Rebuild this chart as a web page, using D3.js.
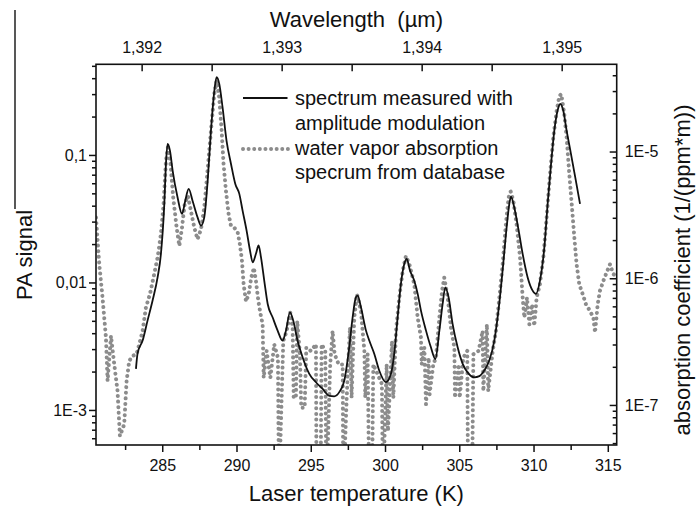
<!DOCTYPE html>
<html>
<head>
<meta charset="utf-8">
<script src="https://cdn.jsdelivr.net/npm/d3@7"></script>
<style>
    body { margin: 0; background: #fff; }
    svg { display: block; font-family: 'Liberation Sans', Arial, sans-serif; }
</style>
</head>
<body>
<svg id="chart" width="696" height="506"></svg>
<script>
const W = 696;
const H = 506;
const LEFT = 96;
const RIGHT = 616.7;
const TOP = 64.3;
const BOTTOM = 445;

// measured PA spectrum: laser temperature (K) and PA signal
const measTemp = [283.23, 283.34, 283.68, 284.01, 284.35, 284.69, 284.91, 285.14, 285.25, 285.36,
    285.52, 285.70, 286.03, 286.33, 286.55, 286.78, 287.04, 287.38, 287.61, 287.83,
    288.06, 288.28, 288.51, 288.66, 288.84, 289.06, 289.33, 289.63, 289.92, 290.19,
    290.41, 290.68, 290.91, 291.09, 291.31, 291.49, 291.65, 291.87, 292.10, 292.43,
    292.77, 293.10, 293.33, 293.60, 293.82, 294.11, 294.45, 294.90, 295.35, 295.80,
    296.25, 296.58, 296.92, 297.26, 297.59, 297.82, 298.04, 298.16, 298.38, 298.72,
    298.94, 299.28, 299.61, 300.06, 300.40, 300.62, 300.85, 301.07, 301.30, 301.46,
    301.68, 301.97, 302.20, 302.42, 302.76, 303.09, 303.39, 303.66, 303.88, 304.06,
    304.28, 304.55, 304.89, 305.23, 305.56, 306.01, 306.35, 306.68, 307.02, 307.36,
    307.69, 307.96, 308.19, 308.37, 308.48, 308.70, 309.00, 309.27, 309.60, 309.94,
    310.16, 310.43, 310.73, 310.95, 311.18, 311.40, 311.62, 311.80, 312.00, 312.23,
    312.52, 312.81, 313.13];
const measSignal = [0.0021, 0.00278, 0.0035, 0.00502, 0.00721, 0.0110, 0.0167, 0.0413, 0.0850, 0.122,
    0.108, 0.0754, 0.0466, 0.0345, 0.0438, 0.0541, 0.0438, 0.0324, 0.0279, 0.0324,
    0.0629, 0.155, 0.320, 0.407, 0.361, 0.237, 0.129, 0.0850, 0.0592, 0.0495,
    0.0366, 0.0255, 0.0178, 0.0144, 0.0168, 0.0195, 0.0157, 0.0103, 0.00678, 0.00533,
    0.00419, 0.0035, 0.00419, 0.00583, 0.00502, 0.0035, 0.00259, 0.00192, 0.00165, 0.00146,
    0.00129, 0.00128, 0.00138, 0.0017, 0.0031, 0.00533, 0.00765, 0.00788, 0.00638, 0.00419,
    0.0035, 0.00275, 0.00204, 0.00165, 0.00192, 0.00275, 0.00533, 0.00973, 0.0140, 0.0153,
    0.0124, 0.0103, 0.00813, 0.00601, 0.00419, 0.0031, 0.00251, 0.00419, 0.00678, 0.00916,
    0.00765, 0.00473, 0.0031, 0.0023, 0.00197, 0.0018, 0.00184, 0.00204, 0.00244, 0.0035,
    0.00678, 0.0140, 0.0271, 0.0413, 0.0471, 0.0389, 0.0255, 0.0167, 0.0110, 0.00863,
    0.00813, 0.0103, 0.0189, 0.0413, 0.0850, 0.155, 0.223, 0.251, 0.223, 0.155,
    0.102, 0.0668, 0.0413];

// water vapor absorption from database: laser temperature (K) and coefficient (1/(ppm*m))
const dbTemp = [280.54, 280.76, 280.98, 281.21, 281.32, 281.55, 281.77, 281.99, 282.15, 282.44,
    282.60, 282.78, 283.00, 283.27, 283.45, 283.68, 283.90, 284.17, 284.46, 284.69,
    284.91, 285.09, 285.25, 285.38, 285.56, 285.74, 285.97, 286.15, 286.33, 286.51,
    286.73, 286.93, 287.16, 287.38, 287.61, 287.83, 288.05, 288.28, 288.50, 288.66,
    288.84, 289.00, 289.13, 289.29, 289.47, 289.63, 289.85, 290.08, 290.23, 290.37,
    290.48, 290.64, 290.82, 290.99, 291.17, 291.31, 291.47, 291.62,
    291.76, 291.83, 292.03, 292.28, 292.54, 292.79, 292.86, 293.04, 293.15, 293.38, 293.62, 293.78,
    293.85, 294.00, 294.09, 294.27, 294.36, 294.59, 294.70, 295.01, 295.35, 295.39,
    295.66, 295.73, 295.98, 296.05, 296.31, 296.47, 296.61, 296.88, 297.15, 297.19,
    297.42, 297.64, 297.75, 297.93, 298.11, 298.38, 298.61, 298.67, 298.83, 298.94,
    299.12, 299.21, 299.50, 299.79, 299.86, 300.11, 300.20, 300.47, 300.56, 300.74,
    300.96, 301.19, 301.41, 301.64, 301.97, 302.20, 302.42, 302.47, 302.65, 302.76,
    302.94, 303.00, 303.25, 303.43, 303.66, 303.84, 303.99, 304.22, 304.44, 304.67,
    304.71, 304.96, 305.03, 305.27, 305.54, 305.59, 305.86, 305.95, 306.30, 306.57,
    306.62, 306.86, 306.95, 307.25, 307.47, 307.70, 307.92, 308.14, 308.32, 308.46,
    308.64, 308.86, 309.09, 309.27, 309.38, 309.56, 309.72, 309.90, 310.05, 310.21,
    310.43, 310.66, 310.88, 311.11, 311.33, 311.56, 311.74, 311.87, 312.07, 312.23,
    312.41, 312.59, 312.75, 312.90, 313.08, 313.31, 313.53, 313.80, 314.03, 314.14,
    314.32, 314.47, 314.70, 314.92, 315.15, 315.37, 315.69];
const dbAbs = [3.01e-6, 1.29e-6, 7.04e-7, 3.40e-7, 1.55e-7, 3.51e-7, 2.09e-7, 1.29e-7, 5.69e-8, 7.04e-8,
    1.55e-7, 2.23e-7, 2.44e-7, 2.51e-7, 3.01e-7, 3.84e-7, 5.87e-7, 7.48e-7, 1.08e-6, 1.46e-6,
    2.23e-6, 3.84e-6, 8.44e-6, 1.08e-5, 7.94e-6, 4.33e-6, 2.51e-6, 1.80e-6, 2.51e-6, 3.84e-6,
    4.47e-6, 3.40e-6, 2.51e-6, 2.03e-6, 2.44e-6, 3.61e-6, 7.04e-6, 1.46e-5, 2.84e-5, 3.61e-5,
    2.67e-5, 1.46e-5, 7.94e-6, 4.89e-6, 3.20e-6, 2.59e-6, 2.51e-6, 2.30e-6, 1.85e-6, 1.37e-6,
    8.97e-7, 6.56e-7, 7.48e-7, 1.01e-6, 1.21e-6, 9.52e-7, 6.62e-7, 5.20e-7,
    4.33e-7, 1.64e-7, 2.67e-7, 1.64e-7, 3.01e-7, 2.36e-7, 2e-8, 1.14e-7, 3.20e-7, 3.84e-7, 5.36e-7, 4.08e-7,
    1.14e-7, 1.14e-7, 4.60e-7, 2.51e-7, 9.52e-8, 9.52e-8, 2.84e-7, 2.67e-7, 3.01e-7, 2e-8,
    2e-8, 3.01e-7, 2.67e-7, 2e-8, 2.09e-7, 3.84e-7, 2.51e-7, 2.09e-7, 2.09e-7, 2e-8,
    1.14e-7, 4.08e-7, 1.14e-7, 4.89e-7, 7.48e-7, 5.52e-7, 2.67e-7, 1.14e-7, 2.51e-7, 2e-8,
    2e-8, 2.09e-7, 1.75e-7, 1.46e-7, 2e-8, 2.09e-7, 6.23e-8, 3.20e-7, 1.14e-7, 3.84e-7,
    7.04e-7, 1.14e-6, 1.50e-6, 1.29e-6, 8.97e-7, 4.89e-7, 3.40e-7, 2.09e-7, 2.84e-7, 1.01e-7,
    2.36e-7, 1.21e-7, 2.09e-7, 2.36e-7, 4.89e-7, 7.94e-7, 1.01e-6, 7.04e-7, 4.08e-7, 2.84e-7,
    1.14e-7, 2.09e-7, 1.14e-7, 2.36e-7, 2.67e-7, 2e-8, 2e-8, 2.51e-7, 2.67e-7, 3.84e-7,
    1.29e-7, 4.33e-7, 1.29e-7, 2.67e-7, 3.84e-7, 7.04e-7, 1.29e-6, 2.67e-6, 4.33e-6, 4.83e-6,
    4.08e-6, 2.67e-6, 1.46e-6, 7.04e-7, 4.89e-7, 7.04e-7, 4.33e-7, 6.23e-7, 4.21e-7, 7.04e-7,
    8.97e-7, 1.46e-6, 3.01e-6, 6.62e-6, 1.29e-5, 2.10e-5, 2.75e-5, 2.84e-5, 1.97e-5, 1.29e-5,
    6.62e-6, 3.61e-6, 2.09e-6, 1.29e-6, 8.97e-7, 7.48e-7, 6.23e-7, 5.52e-7, 4.89e-7, 3.72e-7,
    6.23e-7, 7.94e-7, 9.52e-7, 1.11e-6, 1.29e-6, 1.08e-6, 1.01e-6];

const tempTicks = [285, 290, 295, 300, 305, 310, 315];
const tempMinorTicks = [282.5, 287.5, 292.5, 297.5, 302.5, 307.5, 312.5];
const waveTicks = [1.392, 1.393, 1.394, 1.395];
const waveMinorTicks = [1.3925, 1.3935, 1.3945];
const signalTicks = [0.001, 0.01, 0.1];
const signalLabels = ['1E-3', '0,01', '0,1'];
const absTicks = [1e-7, 1e-6, 1e-5];
const absLabels = ['1E-7', '1E-6', '1E-5'];
const legendLabels = [['spectrum measured with', 'amplitude modulation'],
                      ['water vapor absorption', 'specrum from database']];

const DOT_GREY = '#8c8c8c';
const DOTS = '0.01 5.6';

const svg = d3.select('#chart');

const xScale = d3.scaleLinear().domain([280.54, 315.6]).range([LEFT, RIGHT]);
const waveScale = d3.scaleLinear().domain([1.391674, 1.395393]).range([LEFT, RIGHT]);
const yLeft = d3.scaleLog().domain([5.31e-4, 0.514]).range([BOTTOM, TOP]);
const yRight = d3.scaleLog().domain([4.83e-8, 4.88e-5]).range([BOTTOM, TOP]);

const isDecade = v => Math.abs(Math.log10(v) - Math.round(Math.log10(v))) < 1e-6;
const commaFmt = d3.formatLocale({ decimal: ',', thousands: '.', grouping: [3], currency: ['', ''] }).format('.3f');

svg.append('defs').append('clipPath')
    .attr('id', 'plot-clip')
    .append('rect')
    .attr('x', LEFT)
    .attr('y', TOP)
    .attr('width', RIGHT - LEFT)
    .attr('height', BOTTOM - TOP);

// axes
function styleAxis(g) {
    g.select('.domain').remove();
    g.selectAll('line').attr('stroke', '#111').attr('stroke-width', 1.5);
    g.selectAll('text').attr('font-size', 16).attr('fill', '#111')
        .attr('font-family', "'Liberation Sans', Arial, sans-serif");
}

svg.append('g')
    .attr('transform', 'translate(0,' + BOTTOM + ')')
    .call(d3.axisBottom(xScale).tickValues(tempTicks).tickSize(7).tickPadding(8).tickFormat(d3.format('d')))
    .call(styleAxis);
svg.append('g')
    .attr('transform', 'translate(0,' + BOTTOM + ')')
    .call(d3.axisBottom(xScale).tickValues(tempMinorTicks).tickSize(5).tickFormat(''))
    .call(styleAxis);

svg.append('g')
    .attr('transform', 'translate(0,' + TOP + ')')
    .call(d3.axisTop(waveScale).tickValues(waveTicks).tickSize(-7).tickPadding(11).tickFormat(commaFmt))
    .call(styleAxis);
svg.append('g')
    .attr('transform', 'translate(0,' + TOP + ')')
    .call(d3.axisTop(waveScale).tickValues(waveMinorTicks).tickSize(-7).tickFormat(''))
    .call(styleAxis);

svg.append('g')
    .attr('transform', 'translate(' + LEFT + ',0)')
    .call(d3.axisLeft(yLeft).tickValues(signalTicks).tickSize(7).tickPadding(2)
        .tickFormat((d, i) => signalLabels[i]))
    .call(styleAxis);
svg.append('g')
    .attr('transform', 'translate(' + LEFT + ',0)')
    .call(d3.axisLeft(yLeft).tickValues(yLeft.ticks().filter(v => !isDecade(v))).tickSize(4).tickFormat(''))
    .call(styleAxis);

svg.append('g')
    .attr('transform', 'translate(' + RIGHT + ',0)')
    .call(d3.axisRight(yRight).tickValues(absTicks).tickSize(-7).tickPadding(8)
        .tickFormat((d, i) => absLabels[i]))
    .call(styleAxis);
svg.append('g')
    .attr('transform', 'translate(' + RIGHT + ',0)')
    .call(d3.axisRight(yRight).tickValues(yRight.ticks().filter(v => !isDecade(v))).tickSize(-4).tickFormat(''))
    .call(styleAxis);

// data
const dbData = dbTemp.map((t, i) => [t, dbAbs[i]]);
const measData = measTemp.map((t, i) => [t, measSignal[i]]);

const plot = svg.append('g').attr('clip-path', 'url(#plot-clip)');

plot.append('path')
    .datum(dbData)
    .attr('fill', 'none')
    .attr('stroke', DOT_GREY)
    .attr('stroke-width', 4)
    .attr('stroke-linecap', 'round')
    .attr('stroke-dasharray', DOTS)
    .attr('d', d3.line().x(d => xScale(d[0])).y(d => yRight(d[1])));

plot.append('path')
    .datum(measData)
    .attr('fill', 'none')
    .attr('stroke', '#111')
    .attr('stroke-width', 1.8)
    .attr('d', d3.line().x(d => xScale(d[0])).y(d => yLeft(d[1])).curve(d3.curveMonotoneX));

// frame
svg.append('rect')
    .attr('x', LEFT)
    .attr('y', TOP)
    .attr('width', RIGHT - LEFT)
    .attr('height', BOTTOM - TOP)
    .attr('fill', 'none')
    .attr('stroke', '#111')
    .attr('stroke-width', 1.6);

// legend
const legend = svg.append('g').attr('font-size', 20).attr('fill', '#111');
legend.append('line')
    .attr('x1', 243).attr('x2', 287.5).attr('y1', 98).attr('y2', 98)
    .attr('stroke', '#111').attr('stroke-width', 1.8);
legend.append('line')
    .attr('x1', 243).attr('x2', 288).attr('y1', 149).attr('y2', 149)
    .attr('stroke', DOT_GREY).attr('stroke-width', 4)
    .attr('stroke-linecap', 'round').attr('stroke-dasharray', DOTS);
legendLabels.forEach((pair, k) => {
    pair.forEach((txt, j) => {
        legend.append('text')
            .attr('x', 295)
            .attr('y', 105 + k * 49.5 + j * 24.5)
            .text(txt);
    });
});

// axis titles
svg.append('text')
    .attr('x', (LEFT + RIGHT) / 2)
    .attr('y', 27)
    .attr('text-anchor', 'middle')
    .attr('font-size', 22)
    .attr('fill', '#111')
    .text('Wavelength  (\u00b5m)')
    .style('white-space', 'pre');

svg.append('text')
    .attr('x', (LEFT + RIGHT) / 2)
    .attr('y', 501)
    .attr('text-anchor', 'middle')
    .attr('font-size', 22)
    .attr('fill', '#111')
    .text('Laser temperature (K)');

svg.append('text')
    .attr('transform', 'rotate(-90)')
    .attr('x', -255)
    .attr('y', 32)
    .attr('text-anchor', 'middle')
    .attr('font-size', 22)
    .attr('fill', '#111')
    .text('PA signal');

svg.append('text')
    .attr('transform', 'rotate(-90)')
    .attr('x', -270)
    .attr('y', 690)
    .attr('text-anchor', 'middle')
    .attr('font-size', 22)
    .attr('fill', '#111')
    .text('absorption coefficient (1/(ppm*m))');

// stray scan line at the left edge
svg.append('line')
    .attr('x1', 15).attr('x2', 15).attr('y1', 10).attr('y2', 209)
    .attr('stroke', '#111').attr('stroke-width', 1.4);
</script>
</body>
</html>
